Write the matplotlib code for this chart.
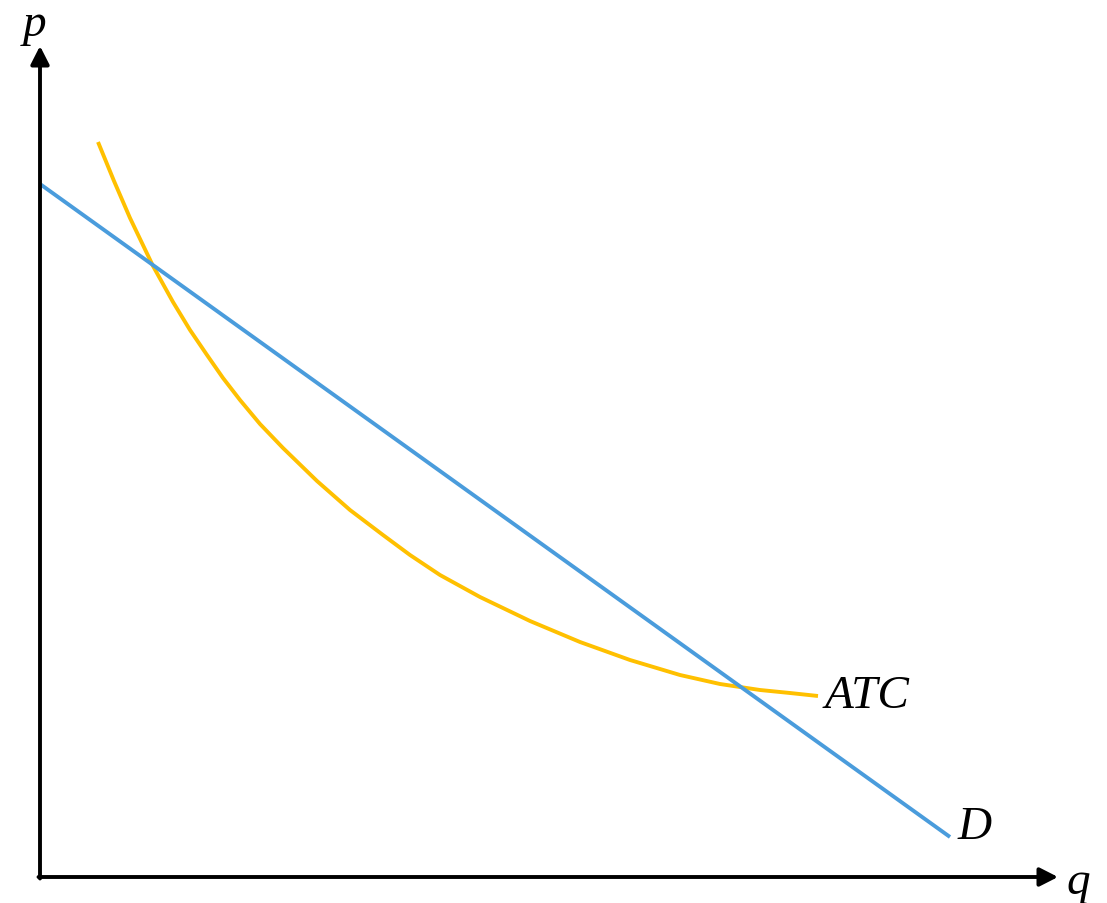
import numpy as np
import matplotlib
matplotlib.use('Agg')
import matplotlib.pyplot as plt

# demand line endpoints (q, p)
d_q = [0.0, 9.10]
d_p = [6.93, 0.40]

# average total cost curve
atc_q = [0.58, 0.74, 0.90, 1.13, 1.33, 1.50, 1.67, 1.83, 2.00, 2.20, 2.43, 2.77,
         3.10, 3.43, 3.70, 4.00, 4.40, 4.90, 5.40, 5.90, 6.40, 6.80, 7.20, 7.50, 7.78]
atc_p = [7.35, 6.96, 6.59, 6.11, 5.75, 5.47, 5.22, 4.99, 4.77, 4.53, 4.29, 3.96,
         3.67, 3.42, 3.22, 3.02, 2.80, 2.56, 2.35, 2.17, 2.02, 1.93, 1.87, 1.84, 1.81]

q_max = 10.18
p_max = 8.31

blue = '#4A9CDC'
gold = '#FFC000'

fig = plt.figure(figsize=(11.07, 9.04), dpi=100)
ax = fig.add_axes([0, 0, 1, 1])
ax.set_xlim(-0.40, 10.67)
ax.set_ylim(-0.26, 8.78)
ax.axis('off')

# axes with arrows
arrow = dict(arrowstyle='-|>,head_length=0.55,head_width=0.28', color='black',
             lw=2.8, shrinkA=0, shrinkB=0, mutation_scale=20)
ax.annotate('', xy=(0, p_max), xytext=(0, -0.015), arrowprops=arrow)
ax.annotate('', xy=(q_max, 0), xytext=(-0.015, 0), arrowprops=arrow)

ax.plot(atc_q, atc_p, color=gold, lw=2.8, solid_capstyle='butt', solid_joinstyle='round')
ax.plot(d_q, d_p, color=blue, lw=2.8, solid_capstyle='butt')

lbl = dict(family='Liberation Serif', style='italic', fontsize=34)
ax.text(-0.05, 8.53, 'p', ha='center', va='center', **lbl)
ax.text(10.38, -0.05, 'q', ha='center', va='center', **lbl)
ax.text(7.85, 1.81, 'ATC', ha='left', va='center', **lbl)
ax.text(9.18, 0.50, 'D', ha='left', va='center', **lbl)

fig.savefig('out.png', dpi=100)
